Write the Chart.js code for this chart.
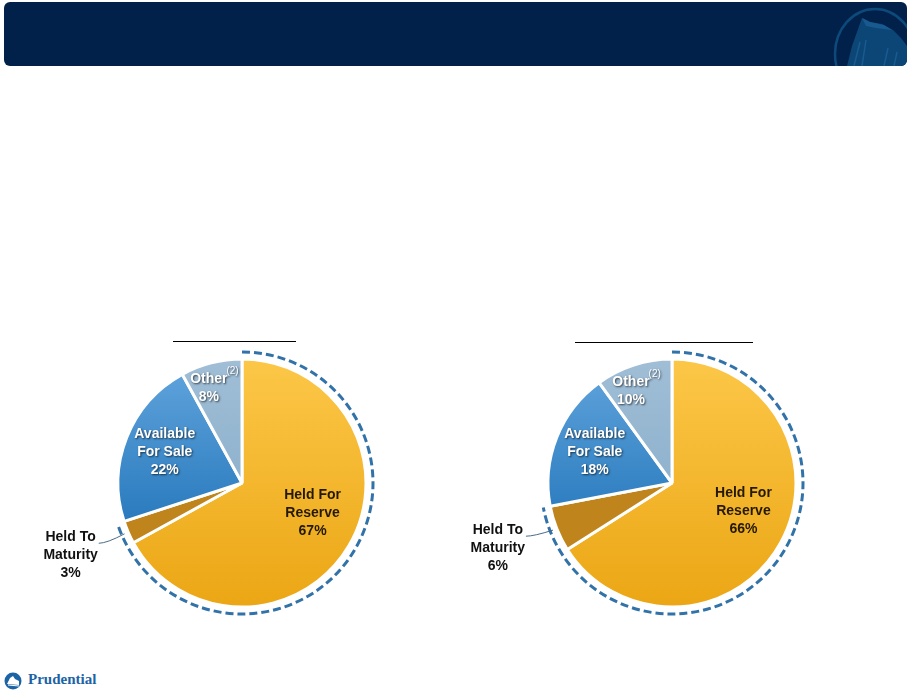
<!DOCTYPE html>
<html>
<head>
<meta charset="utf-8">
<script src="https://cdn.jsdelivr.net/npm/chart.js@4.4.1/dist/chart.umd.min.js"></script>
<style>
  body { margin: 0; background: #fff; width: 910px; height: 693px; position: relative; overflow: hidden; font-family: "Liberation Sans", Arial, sans-serif; }
  #banner { position: absolute; left: 4px; top: 2px; width: 903px; height: 64px; background: #02214a; border-radius: 6px; overflow: hidden; }
  #banner svg { position: absolute; left: 0; top: 0; }
  .rule { position: absolute; height: 0; border-top: 1.5px solid #000; }
  canvas { position: absolute; }
  #brand { position: absolute; left: 4px; top: 671px; height: 20px; }
  #brand span { position: absolute; left: 24px; top: 0px; font-family: "Liberation Serif", "DejaVu Serif", serif; font-weight: bold; font-size: 15px; color: #1c63a6; }
</style>
</head>
<body>
<div id="banner">
  <svg width="903" height="64">
    <ellipse cx="871" cy="52" rx="40" ry="45" fill="none" stroke="#0d4a7c" stroke-width="2.5"/>
    <path d="M843 64 L848 44 L853 30 L858 16 L866 20 L878 22 L889 28 L897 36 L903 44 L903 64 Z" fill="#0c4677"/>
    <path d="M858 16 L866 20 L880 23 L888 28 L872 26 L862 24 Z" fill="#185a90"/>
    <path d="M850 64 L856 40 M858 64 L862 38 M880 64 L884 46 M890 64 L893 50" stroke="#1a5a8e" stroke-width="1.5"/>
  </svg>
</div>

<div class="rule" style="left:173px; top:341px; width:123px;"></div>
<div class="rule" style="left:575px; top:342px; width:178px;"></div>

<canvas id="left" width="455" height="280" style="left:0px; top:345px;"></canvas>
<canvas id="right" width="455" height="280" style="left:455px; top:345px;"></canvas>

<div id="brand">
  <svg width="20" height="20">
    <circle cx="9" cy="10" r="8.5" fill="#1c63a6"/>
    <path d="M3 13 L6 7 L9 5 L11 8 L15 10 L15 14 Z" fill="#fff"/>
    <path d="M4 14 L15 15" stroke="#fff" stroke-width="1"/>
  </svg>
  <span>Prudential</span>
</div>

<script>
// categories in clockwise order from 12 o'clock
const categories = ["Held For Reserve", "Held To Maturity", "Available For Sale", "Other"];
const labelLines = [["Held For", "Reserve"], ["Held To", "Maturity"], ["Available", "For Sale"], ["Other"]];
const leftValues = [67, 3, 22, 8];
const rightValues = [66, 6, 18, 10];

// label placement: fraction along the slice angle, radius as share of the pie radius
const labelAngleFrac = [0.47, 0.55, 0.5, 0.33];
const labelRadiusFrac = [0.62, 1.5, 0.67, 0.81];

function sliceColor(context) {
  const i = context.dataIndex;
  const chart = context.chart;
  const area = chart.chartArea;
  const solid = ["#f5b630", "#c0841c", "#3384c8", "#93b5cf"];
  if (!area) return solid[i];
  const g = chart.ctx.createLinearGradient(0, area.top, 0, area.bottom);
  if (i === 0) { g.addColorStop(0, "#fcc748"); g.addColorStop(1, "#eba614"); return g; }
  if (i === 2) { g.addColorStop(0, "#63a6de"); g.addColorStop(0.7, "#2577bb"); g.addColorStop(1, "#1864a8"); return g; }
  if (i === 3) { g.addColorStop(0, "#a0bed6"); g.addColorStop(1, "#7fa6c4"); return g; }
  return solid[i];
}

const sliceLabels = {
  id: "sliceLabels",
  afterDatasetsDraw(chart) {
    const ctx = chart.ctx;
    const meta = chart.getDatasetMeta(0);
    const vals = chart.data.datasets[0].data;
    const first = meta.data[0], second = meta.data[1];
    const cx = first.x, cy = first.y, r = first.outerRadius;

    // dashed ring around the held portfolio (reserve + maturity)
    ctx.save();
    ctx.beginPath();
    ctx.arc(cx, cy, r + 7, first.startAngle, second.endAngle);
    ctx.setLineDash([8, 4]);
    ctx.lineWidth = 3;
    ctx.strokeStyle = "#3172a8";
    ctx.stroke();
    ctx.restore();

    const lh = 18;
    meta.data.forEach((arc, i) => {
      const a = arc.startAngle + labelAngleFrac[i] * (arc.endAngle - arc.startAngle);
      const rr = labelRadiusFrac[i] * r;
      const x = cx + rr * Math.cos(a);
      const y = cy + rr * Math.sin(a);
      const lines = labelLines[i].concat([vals[i] + "%"]);
      const top = y - (lines.length - 1) * lh / 2;

      ctx.save();
      ctx.font = "bold 14px 'Liberation Sans', Arial, sans-serif";
      ctx.textAlign = "center";
      ctx.textBaseline = "middle";
      const white = (i === 2 || i === 3);
      if (white) {
        ctx.fillStyle = "#ffffff";
        ctx.shadowColor = "rgba(0,0,0,0.65)";
        ctx.shadowBlur = 2;
        ctx.shadowOffsetX = 1;
        ctx.shadowOffsetY = 1;
      } else {
        ctx.fillStyle = i === 0 ? "#241904" : "#111111";
      }
      lines.forEach((t, k) => ctx.fillText(t, x, top + k * lh));

      if (i === 3) {
        const w = ctx.measureText(lines[0]).width;
        ctx.font = "10px 'Liberation Sans', Arial, sans-serif";
        ctx.textAlign = "left";
        ctx.fillText("(2)", x + w / 2 - 1, top - 8);
      }
      ctx.restore();

      if (i === 1) {
        // leader line from the outside label to the slice
        ctx.save();
        ctx.font = "bold 14px 'Liberation Sans', Arial, sans-serif";
        const w = ctx.measureText(lines[0]).width;
        const sx = x + w / 2 + 3, sy = top + 6;
        const ma = (arc.startAngle + arc.endAngle) / 2;
        const ex = cx + (r + 4) * Math.cos(ma), ey = cy + (r + 4) * Math.sin(ma);
        ctx.beginPath();
        ctx.moveTo(sx, sy);
        ctx.quadraticCurveTo(sx + 8, sy, ex, ey);
        ctx.lineWidth = 1;
        ctx.strokeStyle = "#4a6a86";
        ctx.stroke();
        ctx.restore();
      }
    });
  }
};

function makePie(id, values, padding) {
  return new Chart(document.getElementById(id), {
    type: "pie",
    data: {
      labels: categories,
      datasets: [{
        data: values,
        backgroundColor: sliceColor,
        borderColor: "#ffffff",
        borderWidth: 3
      }]
    },
    options: {
      responsive: false,
      animation: false,
      layout: { padding: padding },
      plugins: { legend: { display: false }, tooltip: { enabled: false } }
    },
    plugins: [sliceLabels]
  });
}

makePie("left", leftValues, { left: 116.5, right: 87.5, top: 12.5, bottom: 16.5 });
makePie("right", rightValues, { left: 91.5, right: 112.5, top: 12.5, bottom: 16.5 });
</script>
</body>
</html>
